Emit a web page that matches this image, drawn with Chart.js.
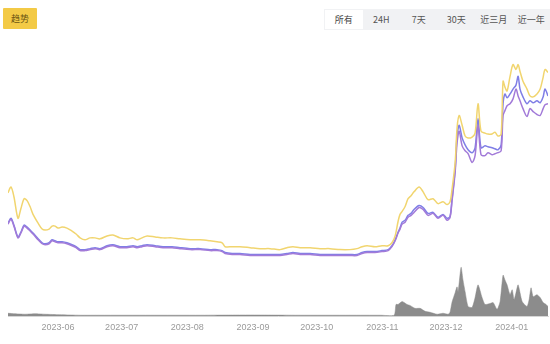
<!DOCTYPE html>
<html>
<head>
<meta charset="utf-8">
<script src="https://cdn.jsdelivr.net/npm/chart.js@4"></script>
<style>
    body { margin: 0; background: #fff; font-family: "Noto Sans CJK SC", sans-serif; }
    #wrap { position: relative; width: 550px; height: 344px; }
    #trend {
        position: absolute; left: 3px; top: 8px; width: 34px; height: 21px;
        background: #f3ca46; color: #6b5512; font-size: 9px; line-height: 21px;
        text-align: center; border-radius: 1px;
    }
    #tabs {
        position: absolute; left: 324px; top: 9px; width: 226px; height: 21px;
        background: #f1f2f4; display: flex; font-size: 9px; color: #555;
    }
    #tabs div { flex: 1; text-align: center; line-height: 21px; }
    #tabs div.active { background: #fff; color: #444; margin: 1px 0 1px 1px; line-height: 19px; }
    #chartBox { position: absolute; left: 0; top: 0; width: 550px; height: 344px; }
</style>
</head>
<body>
<div id="wrap">
    <div id="chartBox"><canvas id="trendChart"></canvas></div>
    <div id="trend">趋势</div>
    <div id="tabs">
        <div class="active">所有</div>
        <div>24H</div>
        <div>7天</div>
        <div>30天</div>
        <div>近三月</div>
        <div>近一年</div>
    </div>
</div>
<script>
// x values are days counted from 2023-06-01
const monthDays = [0, 30, 61, 92, 122, 153, 183, 214];
const monthLabels = ["2023-06", "2023-07", "2023-08", "2023-09", "2023-10", "2023-11", "2023-12", "2024-01"];

const lineDays = [-23.6, -22.2, -20.8, -18.9, -17.5, -16.0, -14.6, -13.2, -11.8, -9.4, -7.5, -6.1, -4.2, -2.8, -1.4,
    0, 1.9, 4.2, 6.6, 8.5, 10.4, 12.7, 15.1, 17.5, 19.8, 23.1, 25.9, 29.2, 32.5, 35.4, 37.3, 39.6, 42.0, 45.8, 49.5,
    53.8, 57.5, 62.3, 67.0, 71.7, 75.0, 77.4, 78.8, 82.1, 85.8, 90.6, 95.3, 100.0, 104.7, 108.0, 110.8, 114.2, 118.9,
    123.6, 128.3, 133.0, 137.7, 141.0, 143.4, 145.8, 149.5, 152.8, 155.7, 157.5, 159.0, 160.4, 161.3, 162.3, 163.7,
    165.1, 166.5, 167.9, 170.3, 172.2, 174.5, 176.9, 179.2, 181.6, 183.5, 184.9, 185.8, 187.3, 188.2, 189.2, 190.6,
    192.0, 193.4, 195.3, 196.7, 198.1, 199.5, 201.4, 202.8, 204.7, 206.1, 207.5, 209.0, 209.9, 210.8, 211.8, 213.2,
    214.6, 216.0, 217.0, 217.9, 219.3, 221.2, 222.6, 224.1, 225.9, 227.4, 228.8, 229.7, 231.1];

const yellowValues = [126, 132, 122, 100, 110, 120, 118, 112, 104, 95, 89, 88, 89, 92, 92,
    90, 91, 90, 87, 84, 80, 78, 80, 80, 79, 82, 83, 80, 79, 80, 78, 80, 82, 81, 80,
    80, 79, 78, 78, 77, 76, 75, 71, 71, 71, 70, 69, 69, 68, 70, 71, 70, 70,
    69, 69, 68, 68, 69, 71, 72, 71, 72, 72, 75, 82, 97, 104, 107, 112,
    120, 123, 127, 132, 127, 119, 120, 115, 117, 114, 117, 129, 157, 192, 205, 195,
    184, 182, 183, 187, 217, 189, 187, 186, 186, 188, 184, 186, 240, 234, 230, 245,
    257, 252, 257, 250, 240, 232, 225, 224, 227, 232, 244, 252, 249];

const blueValues = [95, 100, 93, 81, 86, 93, 91, 88, 85, 79, 75, 74, 75, 78, 77,
    76, 76, 75, 73, 71, 68, 68, 69, 70, 69, 72, 73, 71, 71, 72, 71, 72, 73, 72, 71,
    71, 70, 69, 69, 68, 68, 67, 65, 64, 64, 63, 63, 63, 63, 64, 65, 64, 64,
    63, 63, 63, 63, 63, 65, 66, 66, 67, 68, 72, 78, 86, 90, 96, 98,
    103, 105, 109, 113, 111, 105, 106, 101, 104, 100, 102, 119, 150, 184, 195, 182,
    175, 170, 167, 172, 202, 172, 174, 173, 172, 171, 170, 175, 217, 227, 223, 227,
    232, 236, 245, 232, 224, 217, 220, 218, 220, 218, 224, 232, 225];

const purpleValues = [94, 99, 92, 80, 85, 92, 90, 87, 84, 78, 74, 73, 74, 77, 76,
    75, 75, 74, 72, 70, 67, 67, 68, 69, 68, 71, 72, 70, 70, 71, 70, 71, 72, 71, 70,
    70, 69, 68, 68, 67, 67, 66, 64, 63, 63, 62, 62, 62, 62, 63, 64, 63, 63,
    62, 62, 62, 62, 62, 64, 65, 65, 66, 67, 71, 77, 85, 89, 94, 96,
    101, 103, 106, 111, 109, 103, 105, 100, 103, 98, 101, 117, 147, 177, 189, 174,
    169, 166, 157, 164, 195, 165, 164, 167, 165, 166, 167, 169, 205, 210, 215, 217,
    222, 232, 225, 220, 212, 204, 212, 209, 206, 205, 212, 216, 217];

const volumeDays = [-23.6, -20.3, -15.6, -10.8, -6.1, 0.9, 10.4, 19.8, 43.4, 67.0, 90.6, 114.2, 137.7, 151.9, 158.5,
    159.4, 160.4, 162.3, 164.6, 166.0, 168.4, 170.8, 173.1, 175.5, 178.8, 181.6, 184.0, 184.9, 185.8, 187.3, 188.2,
    188.7, 190.1, 191.0, 192.0, 193.4, 195.3, 196.7, 198.1, 200.0, 201.4, 203.8, 205.2, 207.1, 208.5, 209.9, 210.8,
    211.8, 213.2, 214.2, 215.1, 216.0, 217.0, 218.9, 221.2, 222.2, 223.1, 224.1, 225.9, 227.4, 228.8, 230.2, 231.1];
const volumeValues = [3, 2.5, 2, 2.5, 2, 1.5, 1, 1, 1, 1, 1.2, 1, 1, 1, 1,
    12, 12, 15, 12, 11, 8, 8, 5, 4, 2, 3, 2, 4, 14, 24, 30,
    25, 50, 37, 25, 10, 9, 19, 32, 19, 12, 13, 14, 7, 15, 42, 37,
    32, 22, 27, 17, 24, 32, 15, 10, 17, 29, 20, 22, 19, 14, 12, 10];

function toPoints(days, values) {
    return days.map((d, i) => ({ x: d, y: values[i] }));
}

const ctx = document.getElementById("trendChart").getContext("2d");
const trendChart = new Chart(ctx, {
    type: "line",
    data: {
        datasets: [
            {
                label: "yellow",
                data: toPoints(lineDays, yellowValues),
                borderColor: "#f1d56f",
                borderWidth: 1.5,
                pointRadius: 0,
                tension: 0.3,
                yAxisID: "y",
            },
            {
                label: "purple",
                data: toPoints(lineDays, purpleValues),
                borderColor: "#a27ad8",
                borderWidth: 1.5,
                pointRadius: 0,
                tension: 0.3,
                yAxisID: "y",
            },
            {
                label: "blue",
                data: toPoints(lineDays, blueValues),
                borderColor: "#7f7ee6",
                borderWidth: 1.5,
                pointRadius: 0,
                tension: 0.3,
                yAxisID: "y",
            },
            {
                label: "volume",
                data: toPoints(volumeDays, volumeValues),
                borderColor: "#8a8a8a",
                backgroundColor: "#8c8c8c",
                borderWidth: 0.5,
                pointRadius: 0,
                fill: "origin",
                tension: 0.2,
                yAxisID: "y1",
            },
        ],
    },
    options: {
        responsive: true,
        maintainAspectRatio: false,
        animation: false,
        layout: { padding: { top: 45, left: 8, right: 2, bottom: 5 } },
        plugins: {
            legend: { display: false },
            tooltip: { enabled: false },
        },
        scales: {
            x: {
                type: "linear",
                min: -23.6,
                max: 231.1,
                grid: { display: false, drawTicks: false },
                border: { display: true, color: "#d8d8d8" },
                afterBuildTicks: (scale) => {
                    scale.ticks = monthDays.map((v) => ({ value: v }));
                },
                ticks: {
                    autoSkip: false,
                    maxRotation: 0,
                    padding: 6,
                    color: "#9a9a9a",
                    font: { size: 9, family: "Liberation Sans" },
                    callback: (value) => monthLabels[monthDays.indexOf(value)],
                },
            },
            y: { display: false, min: 0, max: 277 },
            y1: { display: false, min: 0, max: 277 },
        },
    },
});
</script>
</body>
</html>
